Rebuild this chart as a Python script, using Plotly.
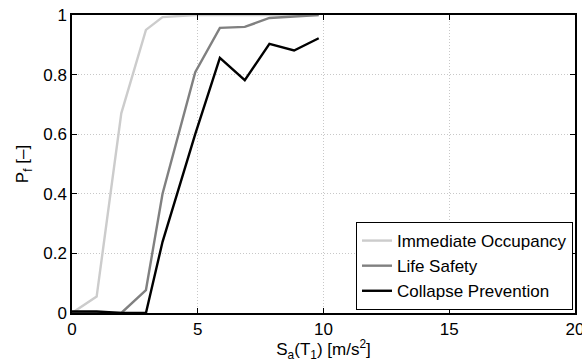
import plotly.graph_objects as go

sa = [0.0, 0.98, 1.96, 2.94, 3.6, 4.9, 5.88, 6.87, 7.85, 8.83, 9.81]
immediate_occupancy = [0.0, 0.055, 0.67, 0.95, 0.993, 1.0, 1.0, 1.0, 1.0, 1.0, 1.0]
life_safety = [0.0, 0.0, 0.0, 0.077, 0.40, 0.808, 0.957, 0.96, 0.99, 0.995, 1.0]
collapse_prevention = [0.005, 0.005, 0.0, 0.0, 0.239, 0.60, 0.856, 0.781, 0.903, 0.881, 0.922]

series = [
    ("Immediate Occupancy", immediate_occupancy, "#cccccc"),
    ("Life Safety", life_safety, "#808080"),
    ("Collapse Prevention", collapse_prevention, "#000000"),
]

fig = go.Figure()
for name, ys, color in series:
    fig.add_trace(go.Scatter(x=sa, y=ys, mode="lines", name=name,
                             line=dict(color=color, width=2.4)))

font = dict(family="Liberation Sans", size=17, color="#000000")
axis_common = dict(
    showline=True, linecolor="#000000", linewidth=1.5, mirror="ticks",
    ticks="inside", ticklen=5, tickcolor="#000000", tickwidth=1,
    showgrid=True, gridcolor="#c8c8c8", griddash="1px,2px", gridwidth=1,
    zeroline=False, tickfont=font, automargin=False, ticklabeloverflow="allow",
)

fig.update_layout(
    width=582, height=362,
    margin=dict(l=72, r=7, t=15, b=49),
    paper_bgcolor="white", plot_bgcolor="white",
    font=font,
    xaxis=dict(range=[0, 20], dtick=5, tick0=0, ticklabelstandoff=0,
               title=dict(text="S<sub>a</sub>(T<sub>1</sub>) [m/s<sup>2</sup>]", standoff=0, font=font),
               **axis_common),
    yaxis=dict(range=[0, 1], dtick=0.2, tick0=0,
               title=dict(text="P<sub>f</sub> [–]", standoff=10, font=font),
               **axis_common),
    legend=dict(x=0.996, y=0.01, xanchor="right", yanchor="bottom",
                bgcolor="white", bordercolor="#000000", borderwidth=1,
                font=font, itemwidth=30, tracegroupgap=0),
    showlegend=True,
)

fig.write_html("out.html", config={"displayModeBar": False},
               post_script="document.body.style.margin='0px';document.body.style.overflow='hidden';")
